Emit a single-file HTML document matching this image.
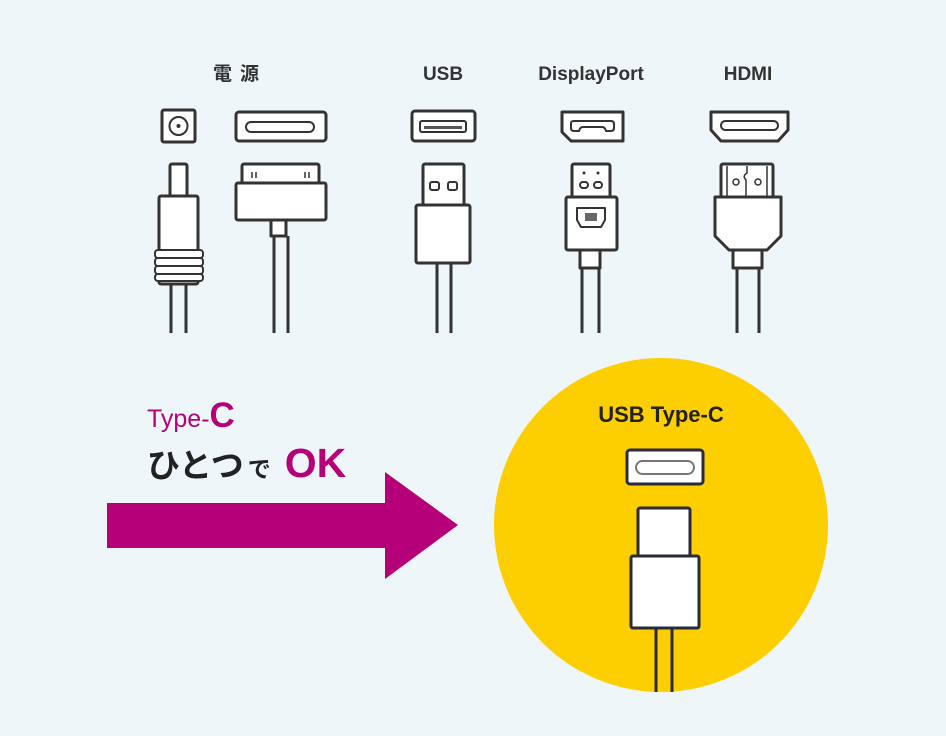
<!DOCTYPE html>
<html><head><meta charset="utf-8"><style>
html,body{margin:0;padding:0;background:#eef6fa;}
svg{display:block}
</style></head><body>
<svg width="946" height="736" viewBox="0 0 946 736" xmlns="http://www.w3.org/2000/svg">
<rect width="946" height="736" fill="#eef6fa"/>
<g font-family="Liberation Sans, Noto Sans CJK JP, sans-serif" font-weight="bold" fill="#333" font-size="19" text-anchor="middle">
<text x="240" y="80" letter-spacing="8">電源</text>
<text x="443" y="80">USB</text>
<text x="591" y="80">DisplayPort</text>
<text x="748" y="80">HDMI</text>
</g>
<g fill="#fff" stroke="#333" stroke-width="3" stroke-linejoin="round">
<rect x="162" y="110" width="33" height="32" rx="2"/>
<circle cx="178.5" cy="126" r="9" stroke-width="2"/>
<circle cx="178.5" cy="126" r="2" fill="#333" stroke="none"/>
<rect x="170" y="164" width="17" height="34" rx="2"/>
<rect x="159" y="196" width="39" height="88" rx="2"/>
<rect x="155" y="250" width="48" height="8" rx="3" stroke-width="2"/>
<rect x="155" y="258" width="48" height="8" rx="3" stroke-width="2"/>
<rect x="155" y="266" width="48" height="8" rx="3" stroke-width="2"/>
<rect x="155" y="274" width="48" height="7" rx="3" stroke-width="2"/>
<path d="M171 285 V333 M186 285 V333" fill="none"/>
<rect x="236" y="112" width="90" height="29" rx="3"/>
<rect x="246" y="122" width="68" height="10" rx="5" stroke-width="2"/>
<rect x="242" y="164" width="77" height="20" rx="2"/>
<rect x="236" y="183" width="90" height="37" rx="2"/>
<rect x="271" y="220" width="15" height="16"/>
<path d="M274 236 V333 M288 236 V333" fill="none"/>
<path d="M252 172 V178 M256 172 V178 M305 172 V178 M309 172 V178" fill="none" stroke-width="1.5"/>
<rect x="412" y="111" width="63" height="30" rx="3"/>
<rect x="420" y="121" width="46" height="11" rx="2" stroke-width="2"/>
<rect x="424" y="126" width="38" height="3" fill="#555" stroke="none"/>
<rect x="423" y="164" width="41" height="42" rx="2"/>
<rect x="430" y="182" width="9" height="8" rx="2" stroke-width="2"/>
<rect x="448" y="182" width="9" height="8" rx="2" stroke-width="2"/>
<rect x="416" y="205" width="54" height="58" rx="2"/>
<path d="M437 263 V333 M451 263 V333" fill="none"/>
<path d="M562 112 H623 V141 H571 L562 132 Z"/>
<path d="M571 123 Q571 121 574 121 H611 Q614 121 614 124 V128 Q614 131 611 131 H606 Q605 127 602 127 H583 Q580 127 579 131 H574 Q571 131 571 128 Z" stroke-width="2"/>
<rect x="572" y="164" width="38" height="34" rx="2"/>
<circle cx="584" cy="173" r="1.5" fill="#333" stroke="none"/>
<circle cx="598" cy="173" r="1.5" fill="#333" stroke="none"/>
<rect x="580" y="182" width="8" height="6" rx="3" stroke-width="2"/>
<rect x="594" y="182" width="8" height="6" rx="3" stroke-width="2"/>
<rect x="566" y="197" width="51" height="53" rx="2"/>
<path d="M577 208 H605 V220 L601 227 H581 L577 220 Z" stroke-width="2"/>
<rect x="585" y="213" width="12" height="8" fill="#666" stroke="none"/>
<rect x="580" y="250" width="20" height="18"/>
<path d="M582 268 V333 M599 268 V333" fill="none"/>
<path d="M711 112 H788 V130 L778 141 H721 L711 130 Z"/>
<rect x="721" y="121" width="57" height="9" rx="4.5" stroke-width="2"/>
<rect x="721" y="164" width="52" height="34" rx="2"/>
<path d="M727 166 V196 M767 166 V196 M747 166 V173 Q742 176 746 180 V196" fill="none" stroke-width="1.5"/>
<circle cx="736" cy="182" r="3" stroke-width="1.5"/>
<circle cx="758" cy="182" r="3" stroke-width="1.5"/>
<path d="M715 197 H781 V236 L767 250 H729 L715 236 Z"/>
<rect x="733" y="250" width="29" height="18"/>
<path d="M737 268 V333 M759 268 V333" fill="none"/>
</g>
<circle cx="661" cy="525" r="167" fill="#fdce00"/>
<rect x="490" y="692" width="340" height="50" fill="#eef6fa"/>
<text x="661" y="422" font-family="Liberation Sans, sans-serif" font-weight="bold" font-size="22" fill="#222" text-anchor="middle">USB Type-C</text>
<g fill="#fff" stroke="#2a2a3a" stroke-width="3" stroke-linejoin="round">
<rect x="627" y="450" width="76" height="34" rx="3"/>
<rect x="636" y="461" width="58" height="13" rx="6.5" stroke="#777" stroke-width="2"/>
<rect x="638" y="508" width="52" height="48" rx="2"/>
<rect x="631" y="556" width="68" height="72" rx="2"/>
<path d="M656 628 V692 M672 628 V692" fill="none"/>
</g>
<path d="M107 503 H385 V472 L458 525 L385 579 V548 H107 Z" fill="#b5007a"/>
<g font-family="Liberation Sans, Noto Sans CJK JP, sans-serif" font-weight="bold">
<text x="147" y="427" fill="#b5007a" font-size="25" font-weight="normal">Type-<tspan font-size="35" font-weight="bold">C</tspan></text>
<text x="147" y="477" fill="#222" font-size="33">ひとつ<tspan font-size="23" dx="4">で</tspan><tspan fill="#b5007a" font-size="41" dx="14">OK</tspan></text>
</g>
</svg>
</body></html>
